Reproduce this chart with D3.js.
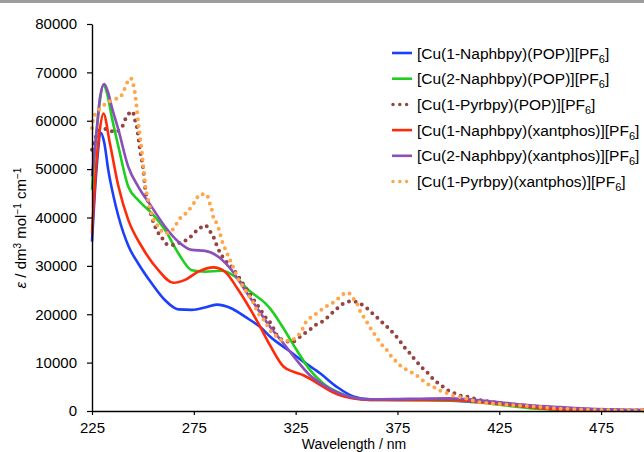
<!DOCTYPE html>
<html>
<head>
<meta charset="utf-8">
<script src="https://cdn.jsdelivr.net/npm/d3@7"></script>
<style>
  html, body { margin: 0; padding: 0; background: #fff; }
  svg { display: block; font-family: "Liberation Sans", Arial, Helvetica, sans-serif; }
</style>
</head>
<body>
<svg id="chart" width="644" height="452"></svg>
<script>
// ---------- data ----------
const seriesNames = [
  "[Cu(1-Naphbpy)(POP)][PF|6|]",
  "[Cu(2-Naphbpy)(POP)][PF|6|]",
  "[Cu(1-Pyrbpy)(POP)][PF|6|]",
  "[Cu(1-Naphbpy)(xantphos)][PF|6|]",
  "[Cu(2-Naphbpy)(xantphos)][PF|6|]",
  "[Cu(1-Pyrbpy)(xantphos)][PF|6|]"
];
const seriesColors = ["#1c3ffb", "#1fcf1f", "#964343", "#ff2a0a", "#8a4fba", "#ffa64a"];
const seriesDotted = [false, false, true, false, false, true];

const xTicks = [225, 275, 325, 375, 425, 475];
const yTicks = [0, 10000, 20000, 30000, 40000, 50000, 60000, 70000, 80000];

// [wavelength nm, epsilon]
const naph1POP = [[225,35000],[227.3,50500],[229.4,57500],[231,55500],[233,49800],[235.5,44500],[238,40200],[243,34000],[247.7,30500],[254.3,26400],[260.9,22900],[267.4,21000],[274,20900],[280.5,21400],[286.2,22000],[293.6,21200],[300.1,19500],[308.3,17100],[312.4,15400],[322.3,12300],[328.8,10200],[337,7800],[345.2,5000],[353.3,3000],[361.5,2400],[375,2300],[390,2300],[400,2200],[410,1900],[425,1500],[440,800],[455,300],[470,100],[500,50]];
const naph2POP = [[225,45700],[227.3,58000],[229,64500],[230.6,67400],[232.5,65500],[234.7,60800],[238,54600],[242.8,46400],[247.7,43600],[254.3,40900],[260.9,37400],[267.4,32600],[274,29100],[280.5,28800],[288.7,29000],[295.2,27800],[301.8,25000],[310,22300],[312.4,21200],[319,17100],[325.5,12600],[332,8500],[338.6,5700],[345.2,4000],[353.3,2750],[361.5,2300],[380,2300],[400,2200],[410,2000],[425,1300],[440,600],[455,250],[470,80],[500,30]];
const pyr1POP = [[225,54000],[228.9,58100],[232,58300],[236,57700],[239.5,58500],[241,60000],[243,61400],[245,61900],[246,60300],[247,58800],[248.6,53900],[250.2,49800],[251,46400],[252.7,42900],[254.3,40200],[256.8,37400],[259.5,35700],[262.5,34300],[265.8,34300],[269,35000],[272.3,35500],[274.7,36600],[278,37800],[280.5,38400],[283,37100],[284.6,36000],[286.2,34300],[287.9,32700],[290.3,31200],[293.6,29800],[296.9,27800],[300.1,25700],[303.4,23600],[306.7,21600],[310,19500],[313.3,17800],[315.7,15700],[318.7,14700],[323.1,14300],[328.5,15800],[331.7,16700],[334.9,17800],[338.1,18500],[341.1,19500],[343.5,20500],[346.5,21600],[349.8,22500],[353,22700],[356.3,22300],[359.6,21400],[362.4,20300],[365.1,19300],[368.1,18100],[370.9,17000],[373.3,15900],[375.8,14700],[377.9,13400],[380.4,12300],[382.8,11000],[385.3,9800],[387.7,8700],[390.5,7600],[393,6400],[396.3,5400],[398.9,4500],[402.2,3800],[405.7,3200],[409.8,2900],[415,2300],[425,1700],[440,1000],[455,550],[475,250],[500,120]];
const naph1Xant = [[225,36700],[227.3,52000],[228.8,58000],[230.6,61500],[233.8,55300],[238,46400],[242.8,39500],[249.4,34000],[257.6,29100],[265,26500],[270.7,27100],[277.2,28800],[284.6,29700],[290.3,28800],[296.9,25000],[306.7,18100],[312.4,13600],[319,9200],[323.9,8100],[328.8,7400],[337,5400],[345.2,3500],[353.3,2600],[361.5,2300],[380,2300],[400,2300],[410,2100],[425,1500],[440,800],[455,300],[470,100],[500,50]];
const naph2Xant = [[225,48500],[227.3,58000],[229,65000],[231,67600],[232.8,66000],[234.7,62900],[238,58100],[242.8,50500],[247.7,46400],[254.3,42200],[260.9,38100],[267.4,35000],[274,33300],[280.5,33100],[287,31900],[293.6,29100],[300.1,25000],[306.7,20900],[312.4,17400],[319,14000],[325.5,10500],[332,7400],[338.6,5400],[345.2,3900],[353.3,2750],[361.5,2400],[380,2500],[400,2600],[410,2400],[425,1800],[440,1200],[455,800],[470,450],[485,300],[500,200]];
const pyr1Xant = [[225,58500],[225.6,60300],[227.3,61700],[229.8,62800],[232.7,63800],[236,64400],[239.1,65000],[240.7,66300],[242.3,67900],[244,68800],[245.3,67400],[246.1,65700],[246.6,64100],[247,62600],[247.7,59500],[248.6,56700],[249.4,53900],[250.2,50500],[251,47100],[252.2,44300],[253.5,41900],[255.1,39800],[257.6,38100],[260.9,36700],[264.4,37400],[268.2,39800],[271.5,41000],[275.6,43300],[278,44800],[281.3,44800],[282.5,43300],[283.8,41700],[284.6,40000],[286.2,38800],[287.5,37300],[288.7,35300],[290.3,33600],[292,31900],[293.6,30500],[295.2,28800],[296.9,27100],[299.3,25700],[301.8,24000],[304.3,22300],[306.7,20200],[310,18500],[312.4,16700],[315.7,15400],[319,14500],[322.3,14500],[325.5,15400],[328,16600],[329.6,18100],[332,19200],[335.4,20200],[338.6,21200],[341.1,21900],[344.4,22700],[347.3,23800],[350.4,24500],[353.3,23300],[355.5,21900],[356.6,20700],[358.3,19500],[360.4,18100],[362.4,16700],[364.5,15400],[366.5,14100],[369.4,12800],[371.4,11600],[373.8,10500],[376.6,9300],[379.6,8500],[382.8,7800],[386.1,6800],[389.3,5700],[392.6,5000],[395.9,4200],[399.2,3700],[403.3,3100],[407.4,2750],[414.2,1900],[420.8,1600],[430.6,1240],[440.5,1000],[451.9,550],[463.4,350],[474.9,200],[500,150]];

const seriesData = [naph1POP, naph2POP, pyr1POP, naph1Xant, naph2Xant, pyr1Xant];

// ---------- drawing ----------
const svg = d3.select("#chart");
const x = d3.scaleLinear().domain([225, 500]).range([92, 652]);
const y = d3.scaleLinear().domain([0, 80000]).range([411, 24]);

svg.append("rect").attr("x", 0).attr("y", 0).attr("width", 644).attr("height", 3).attr("fill", "#9c9c9c");

const line = d3.line()
  .x(d => x(d[0]))
  .y(d => y(d[1]))
  .curve(d3.curveMonotoneX);

const plot = svg.append("g");
seriesData.forEach((data, i) => {
  const p = plot.append("path")
    .datum(data)
    .attr("d", line)
    .attr("fill", "none")
    .attr("stroke", seriesColors[i]);
  if (seriesDotted[i]) {
    p.attr("stroke-width", 4).attr("stroke-linecap", "round").attr("stroke-dasharray", "0 6.8");
  } else {
    p.attr("stroke-width", 2.6).attr("stroke-linejoin", "round");
  }
});

// axes
const yAxis = svg.append("g").attr("transform", "translate(92,0)")
  .call(d3.axisLeft(y).tickValues(yTicks).tickFormat(d3.format("d")).tickSize(5).tickSizeOuter(0).tickPadding(10));
const xAxis = svg.append("g").attr("transform", "translate(0,411)")
  .call(d3.axisBottom(x).tickValues(xTicks).tickFormat(d3.format("d")).tickSize(4).tickSizeOuter(0).tickPadding(7));
[yAxis, xAxis].forEach(a => {
  a.selectAll("path.domain").attr("stroke", "#000").attr("stroke-width", 1.4);
  a.selectAll(".tick line").attr("stroke", "#000").attr("stroke-width", 1.2);
  a.selectAll(".tick text").attr("fill", "#000").style("font-size", "15px")
    .style("font-family", '"Liberation Sans", Arial, sans-serif');
});

// axis titles
svg.append("text")
  .attr("x", 354).attr("y", 449)
  .attr("text-anchor", "middle")
  .style("font-size", "14px")
  .text("Wavelength / nm");

const yt = svg.append("text")
  .attr("transform", "translate(26,228) rotate(-90)")
  .attr("text-anchor", "middle")
  .style("font-size", "15px");
yt.append("tspan").style("font-style", "italic").text("ε");
yt.append("tspan").text(" / dm");
yt.append("tspan").attr("dy", -5).style("font-size", "10px").text("3");
yt.append("tspan").attr("dy", 5).text(" mol");
yt.append("tspan").attr("dy", -5).style("font-size", "10px").text("−1");
yt.append("tspan").attr("dy", 5).text(" cm");
yt.append("tspan").attr("dy", -5).style("font-size", "10px").text("−1");

// legend
const legend = svg.append("g");
seriesNames.forEach((name, i) => {
  const cy = 53 + i * 25.7;
  const ln = legend.append("line")
    .attr("x1", 392).attr("x2", 412).attr("y1", cy).attr("y2", cy)
    .attr("stroke", seriesColors[i]);
  if (seriesDotted[i]) {
    ln.attr("x1", 393).attr("stroke-width", 3.5).attr("stroke-linecap", "round").attr("stroke-dasharray", "0 6.8");
  } else {
    ln.attr("stroke-width", 2.6);
  }
  const parts = name.split("|");
  const t = legend.append("text").attr("x", 417).attr("y", cy + 5.5).style("font-size", "15.5px");
  t.append("tspan").text(parts[0]);
  t.append("tspan").attr("dy", 4).style("font-size", "11px").text(parts[1]);
  t.append("tspan").attr("dy", -4).text(parts[2]);
});
</script>
</body>
</html>
